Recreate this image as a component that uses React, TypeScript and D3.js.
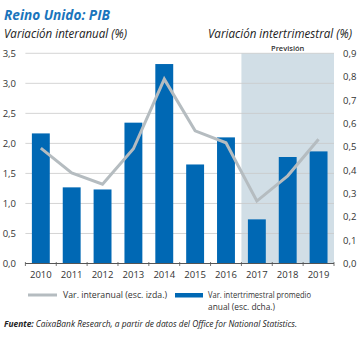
import React from "react";
import * as d3 from "d3";

const years = ["2010","2011","2012","2013","2014","2015","2016","2017","2018","2019"];
const interanual = [1.92, 1.51, 1.32, 1.91, 3.07, 2.21, 2.01, 1.04, 1.46, 2.07];
const intertrimestral = [0.557, 0.326, 0.317, 0.603, 0.854, 0.424, 0.54, 0.189, 0.456, 0.48];
const leftTicks = [0, 0.5, 1, 1.5, 2, 2.5, 3, 3.5];
const rightTicks = [0, 0.1, 0.2, 0.3, 0.4, 0.5, 0.6, 0.7, 0.8, 0.9];
const forecastYears = ["2017", "2018", "2019"];

const W = 361, H = 338;
const left = 25.4, right = 334, top = 53.3, bottom = 263.5;
const fmt = (v: number, d: number) => v.toFixed(d).replace(".", ",");
const FONT = "'Open Sans', 'Noto Sans', sans-serif";

export default function App() {
  const x = d3.scaleBand<string>().domain(years).range([left, right]).paddingInner(0.42).paddingOuter(0.21);
  const yL = d3.scaleLinear().domain([0, 3.5]).range([bottom, top]);
  const yR = d3.scaleLinear().domain([0, 0.9]).range([bottom, top]);
  const step = x.step();
  const bandStart = (c: string) => left + years.indexOf(c) * step;
  const line = d3.line<number>().x((_, i) => (x(years[i]) as number) + x.bandwidth() / 2).y((d) => yL(d));
  const fx0 = bandStart(forecastYears[0]);
  const fx1 = right;

  return (
    <svg width={W} height={H} style={{ position: "absolute", left: 0, top: 0, background: "#fff" }} fontFamily={FONT}>
      <text x={4} y={20} fill="#1a75bc" fontWeight="bold" fontStyle="italic" fontSize={14.5} textLength={106} lengthAdjust="spacingAndGlyphs">Reino Unido: PIB</text>
      <text x={4} y={38} fill="#222" fontStyle="italic" fontSize={12} textLength={123} lengthAdjust="spacingAndGlyphs">Variación interanual (%)</text>
      <text x={352} y={38} fill="#222" fontStyle="italic" fontSize={12} textAnchor="end" textLength={144} lengthAdjust="spacingAndGlyphs">Variación intertrimestral (%)</text>

      <rect x={fx0} y={top} width={fx1 - fx0} height={bottom - top} fill="#d1dee6" />
      <text x={(fx0 + fx1) / 2} y={50.5} textAnchor="middle" fontSize={7.5} fontWeight="600" fill="#333">Previsión</text>

      {leftTicks.map((t) => (
        <line key={"g" + t} x1={left} x2={right} y1={yL(t)} y2={yL(t)} stroke="#c9c9c9" strokeWidth={0.8} />
      ))}
      {leftTicks.map((t) => (
        <text key={"l" + t} x={16} y={yL(t) + 3.5} textAnchor="end" fontSize={9.5} fill="#333">{fmt(t, 1)}</text>
      ))}
      {rightTicks.map((t) => (
        <text key={"r" + t} x={343} y={yR(t) + 3.5} fontSize={9.5} fill="#333">{fmt(t, 1)}</text>
      ))}

      {intertrimestral.map((v, i) => (
        <rect key={"b" + i} x={x(years[i])} y={yR(v)} width={x.bandwidth()} height={bottom - yR(v)} fill="#0068b4" />
      ))}

      <path d={line(interanual) || ""} fill="none" stroke="#b5bcc0" strokeWidth={3} strokeLinejoin="miter" />

      <line x1={left} x2={right} y1={bottom} y2={bottom} stroke="#555" strokeWidth={1} />
      {years.map((c, i) => (
        <line key={"t" + i} x1={bandStart(c)} x2={bandStart(c)} y1={bottom - 1.5} y2={bottom + 2.5} stroke="#555" strokeWidth={0.8} />
      ))}
      <line x1={right} x2={right} y1={bottom - 1.5} y2={bottom + 2.5} stroke="#555" strokeWidth={0.8} />
      {years.map((c) => (
        <text key={"x" + c} x={(x(c) as number) + x.bandwidth() / 2} y={278} textAnchor="middle" fontSize={9.5} fill="#333">{c}</text>
      ))}

      <line x1={28} x2={57} y1={295} y2={295} stroke="#b5bcc0" strokeWidth={3} />
      <text x={63} y={298} fontSize={8.5} fill="#333" textLength={104} lengthAdjust="spacingAndGlyphs">Var. interanual (esc. izda.)</text>
      <rect x={175} y={293} width={28} height={4.5} fill="#0068b4" />
      <text x={208} y={298} fontSize={8.5} fill="#333" textLength={103} lengthAdjust="spacingAndGlyphs">Var. intertrimestral promedio</text>
      <text x={208} y={310} fontSize={8.5} fill="#333" textLength={67} lengthAdjust="spacingAndGlyphs">anual (esc. dcha.)</text>

      <text x={4} y={327} fontSize={8.5} fill="#222" fontStyle="italic" textLength={293} lengthAdjust="spacingAndGlyphs">
        <tspan fontWeight="bold">Fuente:</tspan> CaixaBank Research, a partir de datos del Office for National Statistics.
      </text>
    </svg>
  );
}
